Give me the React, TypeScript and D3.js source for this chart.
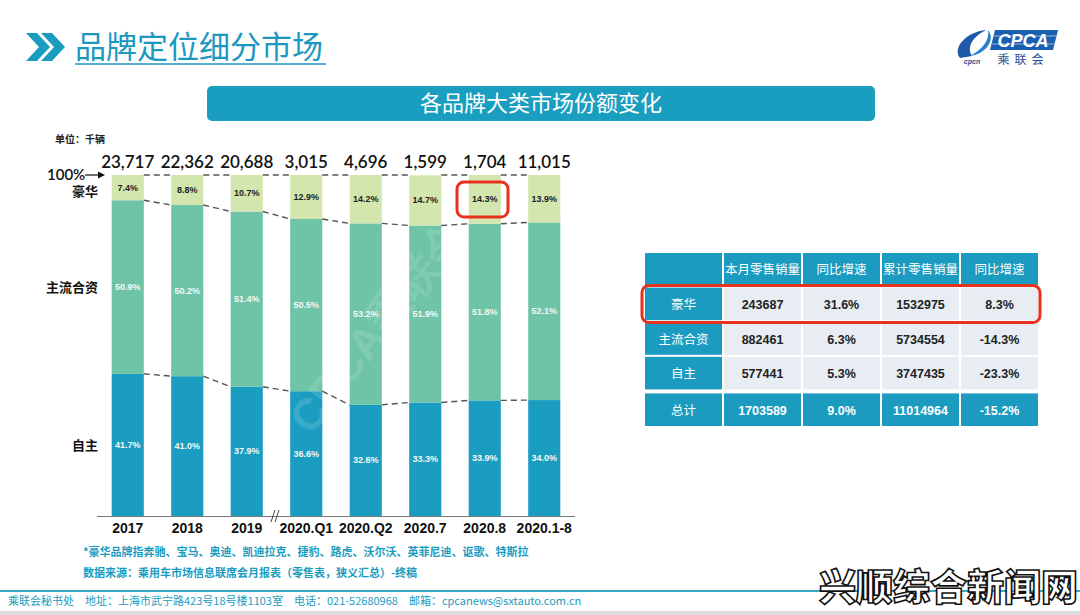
import * as d3 from "d3";

// bar chart data (share %, units: 千辆 for totals)
const categories = ["2017", "2018", "2019", "2020.Q1", "2020.Q2", "2020.7", "2020.8", "2020.1-8"];
const totals = ["23,717", "22,362", "20,688", "3,015", "4,696", "1,599", "1,704", "11,015"];
const luxury = [7.4, 8.8, 10.7, 12.9, 14.2, 14.7, 14.3, 13.9];
const mainstream = [50.9, 50.2, 51.4, 50.5, 53.2, 51.9, 51.8, 52.1];
const domestic = [41.7, 41.0, 37.9, 36.6, 32.6, 33.3, 33.9, 34.0];
const segmentNames = ["自主", "主流合资", "豪华"];

// table data
const tableHeaders = ["", "本月零售销量", "同比增速", "累计零售销量", "同比增速"];
const tableRows = ["豪华", "主流合资", "自主", "总计"];
const monthSales = ["243687", "882461", "577441", "1703589"];
const monthGrowth = ["31.6%", "6.3%", "5.3%", "9.0%"];
const ytdSales = ["1532975", "5734554", "3747435", "11014964"];
const ytdGrowth = ["8.3%", "-14.3%", "-23.3%", "-15.2%"];

const TEAL = "#1a9cc0";
const CJK = "'Noto Sans CJK SC', sans-serif";
const NUM = "'Liberation Sans', Arial, sans-serif";
const colors = { domestic: "#1b9dc1", mainstream: "#6fc4a8", luxury: "#d2e6ad" };

const App = () => {
  const rows = categories.map((c, i) => ({
    cat: c,
    domestic: domestic[i],
    mainstream: mainstream[i],
    luxury: luxury[i],
  }));
  const keys = ["domestic", "mainstream", "luxury"] as const;
  const series = d3.stack<any>().keys(keys as any)(rows);

  const x = d3.scaleBand().domain(categories).range([98, 574]).paddingInner(0.46).paddingOuter(0.23);
  const y = d3.scaleLinear().domain([0, 100]).range([516, 175]);
  const bw = x.bandwidth();

  // boundary levels for dashed connectors
  const levels = [
    rows.map(() => 100),
    rows.map((r) => r.domestic + r.mainstream),
    rows.map((r) => r.domestic),
  ];

  // table scales
  const tx = d3.scaleBand().domain(tableHeaders.map((_, i) => String(i))).range([644, 1039]);
  const ty = d3.scaleBand().domain(["h", ...tableRows]).range([252, 425]);
  const cols = [tableRows, monthSales, monthGrowth, ytdSales, ytdGrowth];

  return (
    <svg width={1080} height={615} style={{ position: "absolute", left: 0, top: 0, background: "#fff" }}>
      {/* title */}
      <g fill={TEAL}>
        <polygon points="26,33 37,33 50,47 37,61 26,61 39,47" />
        <polygon points="41,33 52,33 65,47 52,61 41,61 54,47" />
      </g>
      <text x={75} y={58} fontFamily={CJK} fontSize={31} fill="#1b98c0">品牌定位细分市场</text>
      <line x1={75} x2={326} y1={64} y2={64} stroke="#1b98c0" strokeWidth={1.5} />

      {/* logo */}
      <g>
        <path d="M960,58 C952,48 966,32 986,30 C974,36 966,46 972,56 Z" fill="#1f5aa8" />
        <path d="M970,56 C982,50 990,40 988,30 C996,40 986,54 970,56 Z" fill="#2a7fcf" />
        <text x={972} y={64} fontFamily={NUM} fontSize={7} fontStyle="italic" fontWeight="bold" fill="#1f4f9a" textAnchor="middle">cpcn</text>
        <polygon points="995,30 1058,30 1053,50 990,50" fill="#1a5fb0" />
        <line x1={994} x2={1056} y1={36} y2={36} stroke="#fff" strokeWidth={0.8} opacity={0.7} />
        <line x1={992} x2={1054} y1={44} y2={44} stroke="#fff" strokeWidth={0.8} opacity={0.7} />
        <text x={1023} y={47} fontFamily={NUM} fontSize={18} fontStyle="italic" fontWeight="bold" fill="#fff" textAnchor="middle">CPCA</text>
        <text x={1023} y={64} fontFamily={CJK} fontSize={12} fill="#1f4f9a" textAnchor="middle" letterSpacing={5}>乘联会</text>
      </g>

      {/* banner */}
      <rect x={207} y={86} width={668} height={35} rx={5} fill="#1a9ebf" />
      <text x={541} y={111} fontFamily={CJK} fontSize={22} fill="#fff" textAnchor="middle">各品牌大类市场份额变化</text>

      {/* unit */}
      <text x={55} y={143} fontFamily={CJK} fontSize={10} fontWeight="bold" fill="#222">单位：千辆</text>

      {/* stacked bars */}
      {series.map((s) => (
        <g key={s.key} fill={(colors as any)[s.key]}>
          {s.map((d, i) => (
            <rect key={i} x={x(categories[i])} y={y(d[1])} width={bw} height={y(d[0]) - y(d[1])} />
          ))}
        </g>
      ))}

      {/* watermark over bars */}
      <text x={390} y={335} transform="rotate(-52 390 335)" fontFamily={NUM} fontSize={44} fontWeight="bold" fill="#fff" opacity={0.13} textAnchor="middle">CPCA乘联会</text>

      {/* dashed connectors */}
      {levels.map((lv, li) => (
        <g key={li} stroke="#555" strokeWidth={1.4} strokeDasharray="6,4" fill="none">
          {categories.slice(0, -1).map((c, i) => (
            <line key={c} x1={(x(c) as number) + bw} x2={x(categories[i + 1])} y1={y(lv[i])} y2={y(lv[i + 1])} />
          ))}
        </g>
      ))}

      {/* segment labels */}
      {series.map((s) => (
        <g key={s.key} fontFamily={NUM} fontSize={9} fontWeight="bold" textAnchor="middle"
          fill={s.key === "luxury" ? "#222" : "#f2f8f6"}>
          {s.map((d, i) => (
            <text key={i} x={(x(categories[i]) as number) + bw / 2} y={(y(d[0]) + y(d[1])) / 2 + 3}>
              {(d[1] - d[0]).toFixed(1)}%
            </text>
          ))}
        </g>
      ))}

      {/* totals */}
      {categories.map((c, i) => (
        <text key={c} x={(x(c) as number) + bw / 2} y={168} fontFamily="Lato, sans-serif" fontSize={17} fontWeight={600} fill="#111" textAnchor="middle">{totals[i]}</text>
      ))}

      {/* 100% arrow and series names */}
      <text x={47} y={180} fontFamily="Lato, sans-serif" fontSize={15} fontWeight={600} fill="#111">100%</text>
      <line x1={85} x2={103} y1={175} y2={175} stroke="#111" strokeWidth={1.2} />
      <polygon points="105,175 98,171.5 98,178.5" fill="#111" />
      {series.map((s) => (
        <text key={s.key} x={98} y={(y(s[0][0]) + y(s[0][1])) / 2 + (s.key === "luxury" ? 8 : 5)}
          fontFamily={CJK} fontSize={13} fontWeight="bold" fill="#111" textAnchor="end">
          {segmentNames[keys.indexOf(s.key as any)]}
        </text>
      ))}

      {/* x axis */}
      <line x1={97} x2={575} y1={516.5} y2={516.5} stroke="#777" strokeWidth={1.2} />
      <g stroke="#444" strokeWidth={1}>
        <line x1={271} x2={275} y1={522} y2={510} />
        <line x1={275} x2={279} y1={522} y2={510} />
      </g>
      {categories.map((c) => (
        <text key={c} x={(x(c) as number) + bw / 2} y={533} fontFamily={NUM} fontSize={14} fontWeight="bold" fill="#111" textAnchor="middle">{c}</text>
      ))}

      {/* notes */}
      <text x={83} y={556} fontFamily={CJK} fontSize={11} fontWeight="bold" fill={TEAL}>*豪华品牌指奔驰、宝马、奥迪、凯迪拉克、捷豹、路虎、沃尔沃、英菲尼迪、讴歌、特斯拉</text>
      <text x={83} y={577} fontFamily={CJK} fontSize={11} fontWeight="bold" fill={TEAL}>数据来源：乘用车市场信息联席会月报表（零售表，狭义汇总）-终稿</text>

      {/* table */}
      {cols.map((col, ci) => (
        <g key={ci}>
          <rect x={(tx(String(ci)) as number) + 1} y={(ty("h") as number) + 1} width={tx.bandwidth() - 2} height={ty.bandwidth() - 2} fill="#1a9bbf" />
          <text x={(tx(String(ci)) as number) + tx.bandwidth() / 2} y={(ty("h") as number) + ty.bandwidth() / 2 + 5}
            fontFamily={CJK} fontSize={12.5} fill="#fff" textAnchor="middle">{tableHeaders[ci]}</text>
          {col.map((v, ri) => {
            const teal = ci === 0 || ri === tableRows.length - 1;
            const yy = (ty(tableRows[ri]) as number) + (ri === tableRows.length - 1 ? 2 : 0);
            return (
              <g key={ri}>
                <rect x={(tx(String(ci)) as number) + 1} y={yy + 1} width={tx.bandwidth() - 2} height={ty.bandwidth() - 2} fill={teal ? "#1a9bbf" : "#e7edf3"} />
                <text x={(tx(String(ci)) as number) + tx.bandwidth() / 2} y={yy + ty.bandwidth() / 2 + 5}
                  fontFamily={ci === 0 ? CJK : NUM} fontSize={12.5} fontWeight={ci === 0 ? "normal" : "bold"}
                  fill={teal ? "#fff" : "#222"} textAnchor="middle">{v}</text>
              </g>
            );
          })}
        </g>
      ))}
      <rect x={642} y={285.5} width={398} height={37} rx={7} fill="none" stroke="#e8321e" strokeWidth={3} />
      <rect x={457} y={182} width={51} height={35} rx={7} fill="none" stroke="#e8321e" strokeWidth={3} />

      {/* footer */}
      <line x1={0} x2={1080} y1={591} y2={591} stroke="#3aa9c4" strokeWidth={2} />
      <text x={8} y={605} fontFamily={CJK} fontSize={11} fill={TEAL}>乘联会秘书处　地址：上海市武宁路423号18号楼1103室　电话：021-52680968　邮箱：cpcanews@sxtauto.com.cn</text>
      <rect x={0} y={611} width={1080} height={4} fill="#ddd" />

      {/* site watermark */}
      <text x={1078} y={601} fontFamily={CJK} fontSize={37} fontWeight="900" fill="#fff" stroke="#111" strokeWidth={1.6} textAnchor="end" paintOrder="fill">兴顺综合新闻网</text>
    </svg>
  );
};

export default App;
